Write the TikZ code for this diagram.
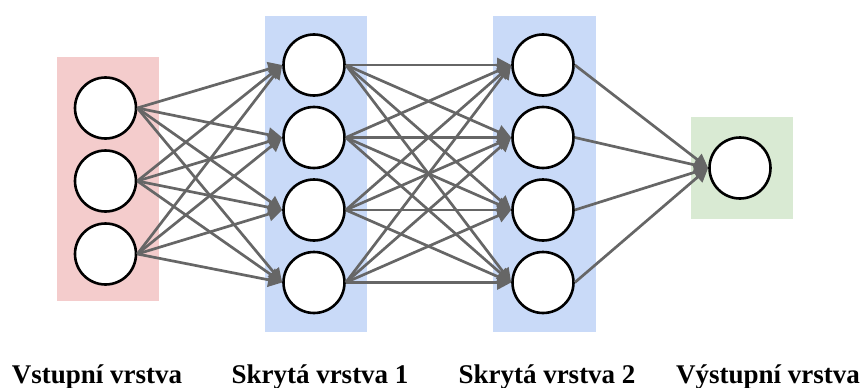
\documentclass[tikz,border=0pt]{standalone}
\usepackage{fontspec}
\setmainfont{Liberation Serif}[BoldFont={Liberation Serif Bold}]
\newfontfamily\lblfont{Liberation Serif Bold}
\usetikzlibrary{arrows.meta}
\definecolor{arrowgray}{HTML}{666666}
\definecolor{redbox}{HTML}{F4CCCC}
\definecolor{bluebox}{HTML}{C9DAF8}
\definecolor{greenbox}{HTML}{D9EAD3}
\begin{document}
\begin{tikzpicture}[x=1pt,y=-1pt,
  neuron/.style={circle,draw=black,line width=2.6pt,fill=white,minimum size=61pt,inner sep=0pt},
  conn/.style={draw=arrowgray,line width=2.7pt,-{Triangle[length=14pt,width=14pt]}},
  lbl/.style={anchor=base,inner sep=0pt,font=\lblfont\fontsize{27}{32}\selectfont}]
\useasboundingbox (0,0) rectangle (863,388);
% layer boxes
\fill[redbox] (57,57) rectangle (159,301);
\fill[bluebox] (265,16) rectangle (367,332);
\fill[bluebox] (493,16) rectangle (596,332);
\fill[greenbox] (691,117) rectangle (793,219);
% neurons
\node[neuron] (i1) at (105.5,108) {};
\node[neuron] (i2) at (105.5,181) {};
\node[neuron] (i3) at (105.5,254) {};
\node[neuron] (a1) at (314,65) {};
\node[neuron] (a2) at (314,137.5) {};
\node[neuron] (a3) at (314,210) {};
\node[neuron] (a4) at (314,282.5) {};
\node[neuron] (b1) at (543,65) {};
\node[neuron] (b2) at (543,137.5) {};
\node[neuron] (b3) at (543,210) {};
\node[neuron] (b4) at (543,282.5) {};
\node[neuron] (o) at (740,168) {};
% connections
\foreach \i in {1,2,3}
  \foreach \j in {1,2,3,4}
    \draw[conn] (i\i.east) -- (a\j.west);
\foreach \i in {1,2,3,4}
  \foreach \j in {1,2,3,4}
    \draw[conn] (a\i.east) -- (b\j.west);
\foreach \i in {1,2,3,4}
  \draw[conn] (b\i.east) -- (o.west);
% labels
\node[lbl] (l1) at (97,383) {Vstupní vrstva};
\node[lbl] (l2) at (320,383) {Skrytá vrstva 1};
\node[lbl] (l3) at (547,383) {Skrytá vrstva 2};
\node[lbl] (l4) at (768,383) {Výstupní vrstva};
\end{tikzpicture}
\end{document}
